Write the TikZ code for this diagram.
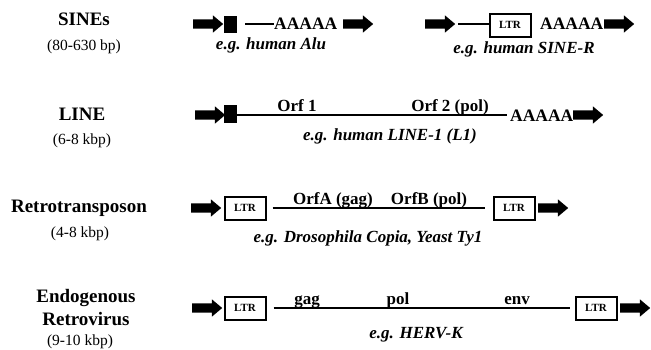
\documentclass[tikz,border=0pt]{standalone}
\usepackage{fontspec}
\setmainfont{Liberation Serif}
\usetikzlibrary{shapes.arrows}
\begin{document}
\begin{tikzpicture}[x=1pt,y=-1pt,
  blk/.style={single arrow, fill=black, draw=none, inner xsep=0pt, inner ysep=4.5pt, minimum height=30pt, minimum width=17pt, single arrow head extend=4pt, single arrow tip angle=80, anchor=west},
  sqbox/.style={fill=black, inner sep=0pt, minimum width=13pt, minimum height=17pt},
  ltr/.style={draw, line width=2pt, inner sep=0pt, minimum width=41pt, minimum height=23pt, font=\fontsize{11}{12}\selectfont\bfseries},
  lab/.style={font=\fontsize{19}{22}\selectfont\bfseries, anchor=base, inner sep=0pt},
  size/.style={font=\fontsize{15.5}{18}\selectfont, anchor=base, inner sep=0pt},
  eg/.style={font=\fontsize{17}{20}\selectfont\bfseries\itshape, anchor=base, inner sep=0pt},
  orf/.style={font=\fontsize{17}{20}\selectfont\bfseries, anchor=base, inner sep=0pt},
  polyA/.style={font=\fontsize{17.5}{20}\selectfont\bfseries, inner sep=0pt, anchor=west},
  seq/.style={line width=2pt}]
\useasboundingbox (0,0) rectangle (651,349);

% Row 1: SINEs
\node[lab] (t1) at (84,25) {SINEs};
\node[size] (s1) at (84,50) {(80-630 bp)};
\node[blk] (r1a) at (193,24) {};
\node[sqbox] (r1b) at (230.5,24) {};
\coordinate (r1c) at (245,24);
\node[polyA] (r1d) at (274,24) {AAAAA};
\node[blk] (r1e) at (343,24) {};
\draw[seq] (r1c) -- (r1d.west);
\node[eg] (e1) at (271,49) {e.g. human Alu};

\node[blk] (r1f) at (425,24) {};
\coordinate (r1g) at (458,24);
\node[ltr] (r1h) at (510,25) {LTR};
\node[polyA] (r1i) at (540,24) {AAAAA};
\node[blk] (r1j) at (604,24) {};
\draw[seq] (r1g) -- (r1h.west |- r1g);
\node[eg] (e2) at (524,53) {e.g. human SINE-R};

% Row 2: LINE
\node[lab] (t2) at (82,120) {LINE};
\node[size] (s2) at (82,144) {(6-8 kbp)};
\node[blk] (r2a) at (195,115) {};
\node[sqbox, minimum height=18pt] (r2b) at (230.5,114) {};
\coordinate (r2e) at (507,115);
\node[polyA] (r2c) at (510,116) {AAAAA};
\node[blk] (r2d) at (573,115) {};
\draw[seq] (r2b.east |- r2e) -- (r2e);
\node[orf] (o1) at (297,111) {Orf 1};
\node[orf] (o2) at (450,111) {Orf 2 (pol)};
\node[eg] (e3) at (390,140) {e.g. human LINE-1 (L1)};

% Row 3: Retrotransposon
\node[lab] (t3) at (79,212) {Retrotransposon};
\node[size] (s3) at (80,237) {(4-8 kbp)};
\node[blk] (r3a) at (191,208) {};
\node[ltr] (r3b) at (245,208) {LTR};
\node[ltr] (r3c) at (514,208) {LTR};
\node[blk] (r3d) at (538,208) {};
\draw[seq] ([xshift=6pt]r3b.east) -- ([xshift=-8pt]r3c.west);
\node[orf] (o3) at (333,204) {OrfA (gag)};
\node[orf] (o4) at (429,204) {OrfB (pol)};
\node[eg] (e4) at (368,242) {e.g. Drosophila Copia, Yeast Ty1};

% Row 4: Endogenous Retrovirus
\node[lab] (t4a) at (86,302) {Endogenous};
\node[lab] (t4b) at (86,325) {Retrovirus};
\node[size] (s4) at (80,345) {(9-10 kbp)};
\node[blk] (r4a) at (192,308) {};
\node[ltr] (r4b) at (245,308) {LTR};
\node[ltr] (r4c) at (596,308) {LTR};
\node[blk] (r4d) at (620,308) {};
\draw[seq] ([xshift=7pt]r4b.east) -- ([xshift=-5pt]r4c.west);
\node[orf] (o5) at (307,304) {gag};
\node[orf] (o6) at (398,304) {pol};
\node[orf] (o7) at (517,304) {env};
\node[eg] (e5) at (416,338) {e.g. HERV-K};
\end{tikzpicture}
\end{document}
